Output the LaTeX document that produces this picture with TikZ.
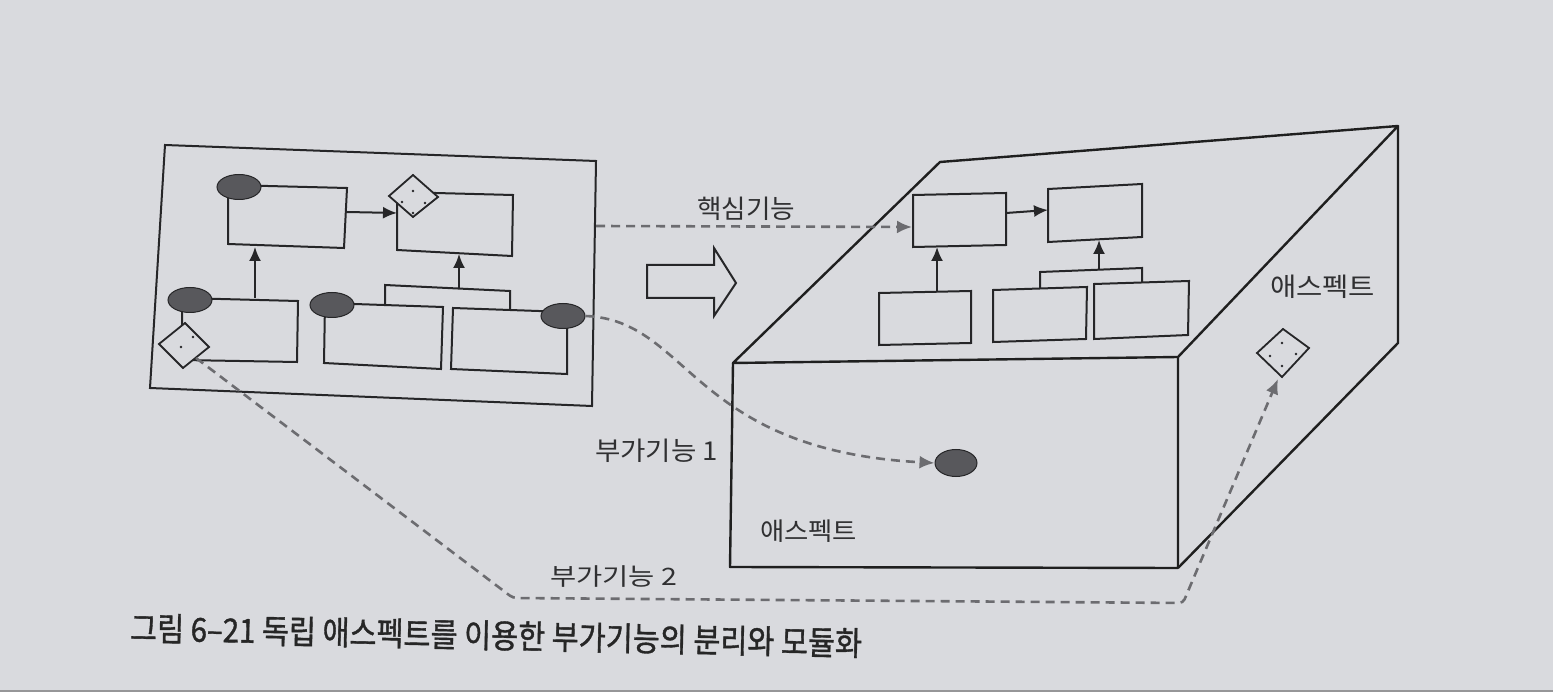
\documentclass[tikz,border=0pt]{standalone}
\usepackage{fontspec}
\usepackage{graphicx}
\newfontfamily\kr{Noto Sans CJK KR}
\newfontfamily\krcap[FakeBold=1.2]{Noto Sans CJK KR}
\usetikzlibrary{arrows.meta,shapes.geometric}
\definecolor{bg}{RGB}{217,218,222}
\definecolor{ink}{RGB}{38,38,40}
\definecolor{dashc}{RGB}{108,108,112}
\definecolor{blobc}{RGB}{88,88,92}
\definecolor{txt}{RGB}{48,48,50}
\definecolor{edge}{RGB}{150,150,152}
\tikzset{
  boxline/.style={draw=ink, line width=2pt, line join=miter},
  cubeline/.style={draw=black!88, line width=2.4pt, line join=round},
  solidarrow/.style={draw=ink, line width=2pt, -{Latex[length=14pt,width=12pt]}},
  dasharrow/.style={draw=dashc, line width=2.6pt, dash pattern=on 9pt off 6pt, -{Latex[length=15pt,width=13pt]}},
  blob/.style={ellipse, fill=blobc, draw=ink, line width=1pt, minimum width=44pt, minimum height=25pt, inner sep=0pt},
  lbl/.style={text=txt, inner sep=0pt},
  diam/.style={fill=bg, draw=ink, line width=1.8pt},
  dotmark/.style={fill=ink, circle, inner sep=0pt, minimum size=2.8pt},
}
\newcommand\qbox[5]{%
  \coordinate (#1-tl) at (#2); \coordinate (#1-tr) at (#3);
  \coordinate (#1-br) at (#4); \coordinate (#1-bl) at (#5);
  \draw[boxline] (#1-tl) -- (#1-tr) -- (#1-br) -- (#1-bl) -- cycle;}
\begin{document}
\begin{tikzpicture}[x=1pt,y=-1pt]
\useasboundingbox (0,0) rectangle (1553,692);
\fill[bg] (0,0) rectangle (1553,692);
\fill[edge] (0,690) rectangle (1553,692);

% ---------- left module ----------
\draw[boxline] (165,145) -- (596,161) -- (592,406) -- (150,388) -- cycle;
\qbox{A}{228,185}{347,188}{344,248}{228,244}
\qbox{B}{397,192}{513,195}{512,256}{397,250}
\qbox{C}{182,298}{298,301}{297,362}{182,360}
\qbox{D}{325,303}{443,307}{441,369}{324,363}
\qbox{E}{453,308}{567,312}{567,374}{451,369}

\node[blob] (eA) at (239,187) {};
\node[blob] (eC) at (190,300) {};
\node[blob] (eD) at (332,305) {};
\node[blob] (eE) at (563,316) {};

% diamonds
\coordinate (dB1) at (413,175); \coordinate (dB2) at (438,197);
\coordinate (dB3) at (413,217); \coordinate (dB4) at (389,196);
\filldraw[diam] (dB1) -- (dB2) -- (dB3) -- (dB4) -- cycle;
\node[dotmark] (dBa) at (413,191) {};
\node[dotmark] (dBb) at (402,202) {};
\node[dotmark] (dBc) at (425,203) {};
\node[dotmark] (dBd) at (413,213) {};

\coordinate (dC1) at (185,323); \coordinate (dC2) at (209,347);
\coordinate (dC3) at (183,368); \coordinate (dC4) at (159,344);
\filldraw[diam] (dC1) -- (dC2) -- (dC3) -- (dC4) -- cycle;
\node[dotmark] (dCa) at (193,337) {};
\node[dotmark] (dCb) at (181,347) {};

% left connectors
\coordinate (a1) at (347,212); \coordinate (b1) at (397,213);
\draw[solidarrow] (a1) -- (b1);
\coordinate (c1) at (255,298); \coordinate (a2) at (255,247);
\draw[solidarrow] (c1) -- (a2);
\coordinate (d1) at (385,305); \coordinate (k1) at (385,285);
\coordinate (k2) at (510,291); \coordinate (e1) at (510,310);
\draw[boxline] (d1) -- (k1) -- (k2) -- (e1);
\coordinate (k3) at (459,288); \coordinate (b2) at (459,254);
\draw[solidarrow] (k3) -- (b2);

% big hollow arrow
\draw[boxline, line join=miter] (647,265) -- (714,265) -- (714,248) -- (736,283)
  -- (714,316) -- (714,298) -- (647,298) -- cycle;

% ---------- aspect cube ----------
\coordinate (q1) at (733,363); \coordinate (q2) at (940,162);
\coordinate (q3) at (1398,126); \coordinate (q4) at (1178,357);
\coordinate (q5) at (1178,568); \coordinate (q6) at (730,567);
\coordinate (q7) at (1398,343);
\draw[cubeline] (q1) -- (q2) -- (q3) -- (q4) -- cycle;
\draw[cubeline] (q1) -- (q6) -- (q5) -- (q4);
\draw[cubeline] (q3) -- (q7) -- (q5);

\qbox{R1}{913,195}{1006,193}{1006,245}{913,247}
\qbox{R2}{1048,189}{1142,184}{1142,237}{1048,242}
\qbox{R3}{879,293}{971,291}{971,343}{879,345}
\qbox{R4}{993,290}{1087,287}{1086,339}{993,342}
\qbox{R5}{1094,284}{1189,281}{1188,335}{1094,339}

\coordinate (r1) at (1006,213); \coordinate (r2) at (1048,210);
\draw[solidarrow] (r1) -- (r2);
\coordinate (r3) at (937,291); \coordinate (r4) at (937,247);
\draw[solidarrow] (r3) -- (r4);
\coordinate (r5) at (1040,289); \coordinate (r6) at (1040,272);
\coordinate (r7) at (1142,268); \coordinate (r8) at (1142,283);
\draw[boxline] (r5) -- (r6) -- (r7) -- (r8);
\coordinate (r9) at (1099,269); \coordinate (r10) at (1099,240);
\draw[solidarrow] (r9) -- (r10);

\node[blob, minimum width=42pt, minimum height=27pt] (eF) at (956,463) {};

\coordinate (dR1) at (1283,329); \coordinate (dR2) at (1309,348);
\coordinate (dR3) at (1282,377); \coordinate (dR4) at (1257,353);
\filldraw[diam] (dR1) -- (dR2) -- (dR3) -- (dR4) -- cycle;
\node[dotmark] (dRa) at (1282,343) {};
\node[dotmark] (dRb) at (1270,356) {};
\node[dotmark] (dRc) at (1296,354) {};
\node[dotmark] (dRd) at (1282,366) {};

% ---------- dashed flows ----------
\coordinate (core0) at (596,226); \coordinate (core1) at (912,227);
\draw[dasharrow] (core0) -- (core1);
\draw[dasharrow] (eE.east) .. controls (690,320) and (690,450) .. (eF.west);
\coordinate (s0) at (196,358); \coordinate (s1) at (513,598);
\coordinate (s2) at (1183,603); \coordinate (s3) at (1278,379);
\draw[dasharrow, rounded corners=4pt] (s0) -- (s1) -- (s2) -- (s3);

% ---------- labels ----------
\node[lbl, anchor=west] (tcore) at (697,209)
  {\kr\fontsize{26pt}{30pt}\selectfont\resizebox{98pt}{\height}{핵심기능}};
\node[lbl, anchor=west] (tf1) at (595,451)
  {\kr\fontsize{26pt}{30pt}\selectfont\resizebox{123pt}{\height}{부가기능 1}};
\node[lbl, anchor=west] (tf2) at (550,577)
  {\kr\fontsize{24pt}{28pt}\selectfont\resizebox{127pt}{\height}{부가기능 2}};
\node[lbl, anchor=west] (tasp1) at (760,531)
  {\kr\fontsize{25pt}{28pt}\selectfont\resizebox{97pt}{\height}{애스펙트}};
\node[lbl, anchor=west] (tasp2) at (1270,287)
  {\kr\fontsize{26pt}{30pt}\selectfont\resizebox{105pt}{\height}{애스펙트}};
\node[lbl, anchor=west, rotate=-1.2, text=black!85] (cap) at (130,628)
  {\krcap\fontsize{33pt}{36pt}\selectfont\resizebox{732pt}{\height}{그림 6–21 독립 애스펙트를 이용한 부가기능의 분리와 모듈화}};
\end{tikzpicture}
\end{document}
